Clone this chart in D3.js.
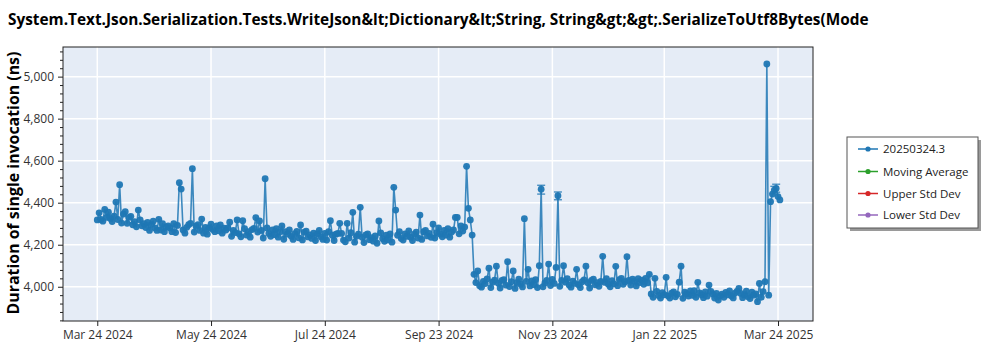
<!DOCTYPE html>
<html>
<head>
<meta charset="utf-8">
<script src="https://cdn.jsdelivr.net/npm/d3@7"></script>
<style>
  html, body { margin: 0; padding: 0; background: #fff; }
  svg { display: block; }
</style>
</head>
<body>
<svg id="chart" width="1000" height="350"></svg>
<script>
// ---- Data ----------------------------------------------------------------
const titleText = "System.Text.Json.Serialization.Tests.WriteJson&lt;Dictionary&lt;String, String&gt;&gt;.SerializeToUtf8Bytes(Mode";
const yAxisLabel = "Duration of single invocation (ns)";

// One measurement per day, starting on this date
const firstRunDate = "2024-03-24";

// Duration of a single invocation (ns), one value per day
const durations = [
  // Mar 24-31 2024
  4318, 4352, 4320, 4312, 4368, 4330, 4355, 4325,
  // Apr 2024
  4310, 4336, 4403, 4320, 4486, 4303, 4346, 4357, 4302, 4330, 4335, 4295, 4310, 4285, 4365,
  4318, 4290, 4300, 4282, 4306, 4268, 4296, 4312, 4280, 4268, 4321, 4270, 4300, 4262, 4284,
  // May 2024
  4290, 4280, 4262, 4300, 4258, 4292, 4495, 4465, 4270, 4255, 4283, 4295, 4302, 4562, 4260,
  4288, 4296, 4268, 4322, 4255, 4282, 4250, 4280, 4298, 4272, 4262, 4290, 4266, 4294, 4255, 4279,
  // Jun 2024
  4270, 4280, 4307, 4240, 4268, 4258, 4318, 4252, 4238, 4314, 4276, 4246, 4262, 4236, 4272,
  4278, 4329, 4260, 4313, 4268, 4232, 4514, 4280, 4254, 4240, 4270, 4248, 4276, 4236, 4262,
  // Jul 2024
  4289, 4226, 4262, 4250, 4270, 4240, 4225, 4253, 4263, 4233, 4294, 4223, 4260, 4265, 4237,
  4247, 4230, 4255, 4220, 4251, 4268, 4238, 4225, 4254, 4222, 4262, 4314, 4245, 4220, 4250, 4254,
  // Aug 2024
  4302, 4254, 4222, 4214, 4302, 4232, 4257, 4354, 4212, 4240, 4250, 4378, 4235, 4210, 4247,
  4252, 4224, 4234, 4217, 4242, 4207, 4313, 4256, 4229, 4216, 4245, 4223, 4251, 4212, 4473, 4365,
  // Sep 2024
  4245, 4262, 4230, 4222, 4252, 4240, 4266, 4236, 4220, 4250, 4260, 4232, 4341, 4225, 4262,
  4268, 4242, 4254, 4235, 4298, 4232, 4258, 4280, 4250, 4238, 4268, 4246, 4276, 4236, 4260,
  // Oct 2024
  4270, 4330, 4330, 4252, 4290, 4265, 4284, 4573, 4373, 4318, 4246, 4059, 4020, 4075, 4005,
  3998, 4026, 4015, 4037, 4088, 3996, 4022, 4032, 4098, 4017, 3994, 4030, 4034, 4008, 4119, 4001,
  // Nov 2024
  4024, 4075, 3992, 4020, 4036, 4012, 3999, 4324, 4026, 4083, 4004, 4028, 4010, 4034, 3996,
  4100, 4464, 4000, 4018, 4030, 4108, 4006, 4035, 4016, 4092, 4433, 4002, 4030, 4100, 4022,
  // Dec 2024
  4038, 4008, 3998, 4027, 4016, 4083, 4010, 3996, 4024, 4033, 4098, 4019, 3994, 4030, 4036,
  4009, 4020, 4002, 4026, 4145, 4021, 4039, 4012, 4000, 4029, 4014, 4097, 4005, 4034, 4040, 4012,
  // Jan 2025
  4024, 4143, 4030, 4008, 4036, 4026, 4004, 4038, 4020, 4032, 4012, 4040, 4018, 4059, 3966,
  3950, 4040, 3978, 3958, 3946, 3972, 3962, 4045, 3957, 3946, 3969, 3976, 3952, 3964, 4022, 4098,
  // Feb 2025
  3945, 3974, 3967, 3956, 3980, 3959, 3981, 3950, 4021, 3971, 3962, 3948, 3976, 3955,
  4008, 3978, 3966, 3946, 3968, 3937, 3957, 3965, 3950, 3973, 3962, 3980, 3956, 3947,
  // Mar 1-25 2025
  3970, 3978, 3992, 3968, 3948, 3962, 3979, 3953, 3944, 3974, 3960, 3966, 3929,
  4016, 3950, 3977, 4024, 5060, 3960, 4405, 4441, 4460, 4468, 4429, 4413
];

// Runs that show a spread: [day index, low (ns), high (ns)]
const errorBars = [
  [238, 4441, 4483],
  [247, 4414, 4451],
  [363, 4442, 4478],
  [364, 4450, 4488]
];

const xTickDates = ["2024-03-24", "2024-05-24", "2024-07-24", "2024-09-23", "2024-11-23", "2025-01-22", "2025-03-24"];
const yTickValues = [4000, 4200, 4400, 4600, 4800, 5000];
const xDomain = ["2024-03-05T15:00:00Z", "2025-04-11T18:00:00Z"];
const yDomain = [3837, 5141];

const legendLabels = ["20250324.3", "Moving Average", "Upper Std Dev", "Lower Std Dev"];
const legendColors = ["#1f77b4", "#2ca02c", "#d62728", "#9467bd"];

// ---- Layout --------------------------------------------------------------
const svg = d3.select("#chart");
const plot = { left: 63, right: 813, top: 47, bottom: 321 };
const fontFamily = "'Open Sans', 'Noto Sans', 'DejaVu Sans', sans-serif";

const parseDay = d3.utcParse("%Y-%m-%d");
const start = parseDay(firstRunDate);
const points = durations.map((v, i) => ({ date: d3.utcDay.offset(start, i), value: v, i }));

const x = d3.scaleUtc()
  .domain(xDomain.map(s => new Date(s)))
  .range([plot.left, plot.right]);
const y = d3.scaleLinear()
  .domain(yDomain)
  .range([plot.bottom, plot.top]);

// Plot background
svg.append("rect")
  .attr("x", plot.left).attr("y", plot.top)
  .attr("width", plot.right - plot.left).attr("height", plot.bottom - plot.top)
  .attr("fill", "#e5ecf6");

// Grid lines
const grid = svg.append("g").attr("stroke", "#ffffff").attr("stroke-width", 1.5);
xTickDates.map(parseDay).forEach(d => {
  grid.append("line")
    .attr("x1", x(d)).attr("x2", x(d))
    .attr("y1", plot.top).attr("y2", plot.bottom);
});
yTickValues.forEach(v => {
  grid.append("line")
    .attr("x1", plot.left).attr("x2", plot.right)
    .attr("y1", y(v)).attr("y2", y(v));
});

// Clip series to the plot area
svg.append("clipPath").attr("id", "plotClip")
  .append("rect")
  .attr("x", plot.left).attr("y", plot.top)
  .attr("width", plot.right - plot.left).attr("height", plot.bottom - plot.top);

const series = svg.append("g").attr("clip-path", "url(#plotClip)");
const blue = "#1f77b4";

const line = d3.line()
  .x(d => x(d.date))
  .y(d => y(d.value));

series.append("path")
  .datum(points)
  .attr("fill", "none")
  .attr("stroke", blue)
  .attr("stroke-opacity", 0.85)
  .attr("stroke-width", 1.6)
  .attr("stroke-linejoin", "round")
  .attr("d", line);

// Error bars
const eb = series.append("g").attr("stroke", blue).attr("stroke-width", 1.3).attr("stroke-opacity", 0.85);
errorBars.forEach(([i, lo, hi]) => {
  const cx = x(d3.utcDay.offset(start, i));
  eb.append("line").attr("x1", cx).attr("x2", cx).attr("y1", y(lo)).attr("y2", y(hi));
  eb.append("line").attr("x1", cx - 4).attr("x2", cx + 4).attr("y1", y(lo)).attr("y2", y(lo));
  eb.append("line").attr("x1", cx - 4).attr("x2", cx + 4).attr("y1", y(hi)).attr("y2", y(hi));
});

series.selectAll("circle.pt")
  .data(points)
  .join("circle")
  .attr("class", "pt")
  .attr("cx", d => x(d.date))
  .attr("cy", d => y(d.value))
  .attr("r", 3.4)
  .attr("fill", blue)
  .attr("fill-opacity", 0.95);

// Frame
svg.append("rect")
  .attr("x", plot.left).attr("y", plot.top)
  .attr("width", plot.right - plot.left).attr("height", plot.bottom - plot.top)
  .attr("fill", "none").attr("stroke", "#222").attr("stroke-width", 1);

// ---- Axes ----------------------------------------------------------------
const xAxis = d3.axisBottom(x)
  .tickValues(xTickDates.map(parseDay))
  .tickFormat(d3.utcFormat("%b %-d %Y"))
  .tickSizeInner(5).tickSizeOuter(0).tickPadding(4);
const gx = svg.append("g")
  .attr("transform", `translate(0,${plot.bottom})`)
  .call(xAxis);
gx.select(".domain").remove();
gx.selectAll("line").attr("stroke", "#222");
gx.selectAll("text").attr("font-family", fontFamily).attr("font-size", 12).attr("fill", "#333");

// Minor y ticks every 40 ns
const minorY = d3.range(3840, 5141, 40).filter(v => !yTickValues.includes(v));
const gyMinor = svg.append("g")
  .attr("transform", `translate(${plot.left},0)`)
  .call(d3.axisLeft(y).tickValues(minorY).tickSize(3).tickFormat(""));
gyMinor.select(".domain").remove();
gyMinor.selectAll("line").attr("stroke", "#222");

const yAxis = d3.axisLeft(y)
  .tickValues(yTickValues)
  .tickFormat(d3.format(","))
  .tickSizeInner(5).tickSizeOuter(0).tickPadding(4);
const gy = svg.append("g")
  .attr("transform", `translate(${plot.left},0)`)
  .call(yAxis);
gy.select(".domain").remove();
gy.selectAll("line").attr("stroke", "#222");
gy.selectAll("text").attr("font-family", fontFamily).attr("font-size", 12).attr("fill", "#333");

// ---- Title and axis label ------------------------------------------------
function fitWidth(sel, target, startSize) {
  sel.attr("font-size", startSize);
  const w = sel.node().getComputedTextLength();
  if (w > 0) sel.attr("font-size", startSize * target / w);
}

const title = svg.append("text")
  .attr("x", 8).attr("y", 25)
  .attr("font-family", fontFamily)
  .attr("font-weight", "bold")
  .attr("fill", "#000")
  .text(titleText);
fitWidth(title, 861, 15);

const yLabel = svg.append("text")
  .attr("transform", `translate(19,${(plot.top + plot.bottom) / 2 - 1}) rotate(-90)`)
  .attr("text-anchor", "middle")
  .attr("font-family", fontFamily)
  .attr("font-weight", "bold")
  .attr("fill", "#000")
  .text(yAxisLabel);
fitWidth(yLabel, 263, 16);

// ---- Legend --------------------------------------------------------------
const lg = { x: 847, y: 137, w: 131, h: 91 };
const legend = svg.append("g");
legend.append("rect")
  .attr("x", lg.x + 3).attr("y", lg.y + 3)
  .attr("width", lg.w).attr("height", lg.h)
  .attr("fill", "#9a9a9a");
legend.append("rect")
  .attr("x", lg.x).attr("y", lg.y)
  .attr("width", lg.w).attr("height", lg.h)
  .attr("fill", "#fff").attr("stroke", "#555").attr("stroke-width", 1);

const legendRowY = [149, 171.5, 193.5, 215];
legendLabels.forEach((label, k) => {
  const yy = legendRowY[k];
  legend.append("line")
    .attr("x1", 858).attr("x2", 878).attr("y1", yy).attr("y2", yy)
    .attr("stroke", legendColors[k]).attr("stroke-width", 1.5);
  legend.append("circle")
    .attr("cx", 868).attr("cy", yy).attr("r", 2.6)
    .attr("fill", legendColors[k]);
  legend.append("text")
    .attr("x", 883).attr("y", yy + 4)
    .attr("font-family", fontFamily).attr("font-size", 11.5)
    .attr("fill", "#222")
    .text(label);
});
</script>
</body>
</html>
